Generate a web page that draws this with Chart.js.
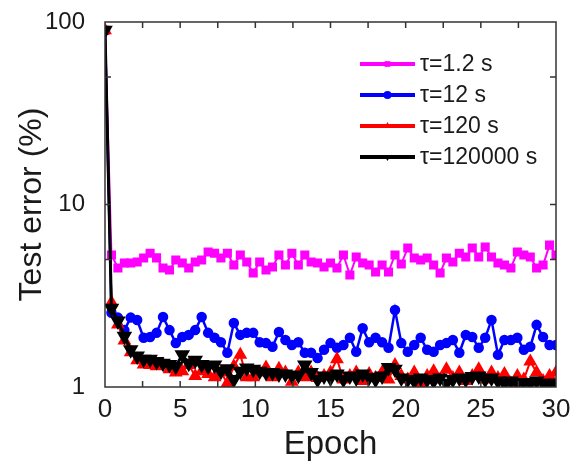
<!DOCTYPE html>
<html>
<head>
<meta charset="utf-8">
<script src="https://cdn.jsdelivr.net/npm/chart.js@4.4.1/dist/chart.umd.min.js"></script>
<style>
body { margin: 0; background: #fff; }
#wrap { width: 580px; height: 468px; }
</style>
</head>
<body>
<div id="wrap"><canvas id="grafico" width="580" height="468"></canvas></div>
<script>
// Datos
var epochs = [0, 0.43, 0.86, 1.29, 1.71, 2.14, 2.57, 3, 3.43, 3.86, 4.29, 4.71, 5.14, 5.57, 6, 6.43, 6.86, 7.29, 7.71, 8.14, 8.57, 9, 9.43, 9.86, 10.29, 10.71, 11.14, 11.57, 12, 12.43, 12.86, 13.29, 13.71, 14.14, 14.57, 15, 15.43, 15.86, 16.29, 16.71, 17.14, 17.57, 18, 18.43, 18.86, 19.29, 19.71, 20.14, 20.57, 21, 21.43, 21.86, 22.29, 22.71, 23.14, 23.57, 24, 24.43, 24.86, 25.29, 25.71, 26.14, 26.57, 27, 27.43, 27.86, 28.29, 28.71, 29.14, 29.57, 30];

var tau1_2 = [90, 5.29, 4.49, 4.78, 4.78, 4.84, 5.09, 5.4, 5.1, 4.49, 4.38, 4.97, 4.78, 4.49, 4.84, 4.97, 5.49, 5.4, 5.09, 5.4, 4.66, 5.29, 4.84, 4.21, 4.84, 4.38, 4.55, 5.29, 4.66, 5.4, 4.66, 5.29, 4.84, 4.78, 4.55, 4.78, 4.49, 5.29, 4.11, 5.16, 4.78, 4.66, 4.27, 4.66, 4.27, 5.29, 4.72, 5.78, 5.09, 4.97, 5.09, 4.66, 4.21, 5.09, 4.84, 5.4, 5.16, 5.78, 5.16, 5.85, 5.16, 4.78, 4.66, 4.49, 5.49, 5.29, 5.16, 4.49, 4.66, 5.99, 5.29];

var tau12 = [90, 2.55, 2.4, 2.05, 2.4, 2.33, 1.86, 1.88, 1.98, 2.42, 2.05, 1.74, 1.88, 1.93, 2.05, 2.42, 1.98, 1.86, 1.76, 1.54, 2.24, 1.93, 1.98, 1.98, 1.76, 1.74, 1.66, 2.0, 1.81, 1.7, 1.76, 1.54, 1.54, 1.44, 1.6, 1.74, 1.64, 1.7, 1.86, 1.56, 2.1, 1.76, 1.86, 1.76, 1.64, 2.64, 1.74, 1.56, 1.7, 1.86, 1.6, 1.56, 1.7, 1.74, 1.81, 1.54, 1.93, 1.88, 1.64, 1.86, 2.33, 1.5, 1.81, 1.81, 1.86, 1.6, 1.66, 2.19, 1.88, 1.7, 1.7];

var tau120 = [90, 2.9, 2.2, 1.8, 1.55, 1.4, 1.33, 1.32, 1.3, 1.33, 1.25, 1.2, 1.22, 1.32, 1.15, 1.22, 1.18, 1.13, 1.2, 1.05, 1.3, 1.5, 1.13, 1.13, 1.2, 1.28, 1.13, 1.26, 1.2, 1.07, 1.2, 1.13, 1.2, 1.12, 1.15, 1.2, 1.42, 1.1, 1.15, 1.2, 1.08, 1.18, 1.12, 1.2, 1.1, 1.32, 1.15, 1.1, 1.2, 1.05, 1.15, 1.22, 1.1, 1.25, 1.12, 1.2, 1.08, 1.15, 1.25, 1.1, 1.2, 1.12, 1.18, 1.05, 1.15, 1.1, 1.38, 1.2, 1.08, 1.15, 1.2];

var tau120000 = [90, 2.7, 2.3, 1.9, 1.6, 1.48, 1.42, 1.42, 1.38, 1.35, 1.33, 1.3, 1.5, 1.35, 1.4, 1.33, 1.3, 1.32, 1.22, 1.26, 1.1, 1.22, 1.27, 1.25, 1.22, 1.2, 1.2, 1.18, 1.18, 1.16, 1.16, 1.32, 1.2, 1.1, 1.15, 1.12, 1.18, 1.1, 1.15, 1.12, 1.18, 1.13, 1.1, 1.15, 1.28, 1.25, 1.12, 1.1, 1.08, 1.12, 1.1, 1.08, 1.12, 1.05, 1.1, 1.12, 1.1, 1.14, 1.15, 1.1, 1.12, 1.08, 1.05, 1.08, 1.05, 1.06, 1.05, 1.08, 1.05, 1.05, 1.05];

var nombresSeries = ['τ=1.2 s', 'τ=12 s', 'τ=120 s', 'τ=120000 s'];
var xTicks = [0, 5, 10, 15, 20, 25, 30];
var xMarcas = [2.5, 5, 7.5, 10, 12.5, 15, 17.5, 20, 22.5, 25, 27.5];
var yTicks = [1, 10, 100];
var yMarcas = [5, 10, 50];

function puntos(valores) {
    return valores.map(function(v, i) { return { x: epochs[i], y: v }; });
}

var fuente = "'Liberation Sans', Arial, sans-serif";

// Marco y marcas interiores de los ejes
var marcoEjes = {
    id: 'marcoEjes',
    afterDatasetsDraw: function(chart) {
        var ctx = chart.ctx, a = chart.chartArea;
        var sx = chart.scales.x, sy = chart.scales.y;
        ctx.save();
        ctx.strokeStyle = '#333';
        ctx.lineWidth = 1.5;
        ctx.strokeRect(a.left, a.top, a.right - a.left, a.bottom - a.top);
        ctx.beginPath();
        xMarcas.forEach(function(v) {
            var px = sx.getPixelForValue(v);
            ctx.moveTo(px, a.bottom); ctx.lineTo(px, a.bottom - 6);
            ctx.moveTo(px, a.top); ctx.lineTo(px, a.top + 6);
        });
        yMarcas.forEach(function(v) {
            var py = sy.getPixelForValue(v);
            ctx.moveTo(a.left, py); ctx.lineTo(a.left + 6, py);
            ctx.moveTo(a.right, py); ctx.lineTo(a.right - 6, py);
        });
        ctx.stroke();
        ctx.restore();
    }
};

// Leyenda dentro del area del grafico
var leyenda = {
    id: 'leyenda',
    afterDraw: function(chart) {
        var ctx = chart.ctx;
        var x0 = 360, x1 = 415, y = 64, paso = 31;
        ctx.save();
        chart.data.datasets.forEach(function(ds, i) {
            var yy = y + i * paso;
            ctx.strokeStyle = ds.borderColor;
            ctx.lineWidth = 4;
            ctx.beginPath();
            ctx.moveTo(x0, yy); ctx.lineTo(x1, yy);
            ctx.stroke();
            ctx.fillStyle = ds.borderColor;
            Chart.helpers.drawPoint(ctx, {
                pointStyle: ds.pointStyle,
                rotation: ds.pointRotation || 0,
                radius: 4,
                borderWidth: 0
            }, (x0 + x1) / 2, yy);
            ctx.font = "23px " + fuente;
            ctx.fillStyle = '#1a1a1a';
            ctx.textBaseline = 'middle';
            ctx.textAlign = 'left';
            ctx.fillText(ds.label, x1 + 5, yy + 1);
        });
        ctx.restore();
    }
};

var ctx = document.getElementById('grafico').getContext('2d');
var myChart = new Chart(ctx, {
    type: 'line',
    data: {
        datasets: [{
            label: nombresSeries[0],
            data: puntos(tau1_2),
            borderColor: '#ff00ff',
            backgroundColor: '#ff00ff',
            borderWidth: 2,
            pointStyle: 'rect',
            pointRadius: 5,
            order: 4
        }, {
            label: nombresSeries[1],
            data: puntos(tau12),
            borderColor: '#0000ff',
            backgroundColor: '#0000ff',
            borderWidth: 2.5,
            pointStyle: 'circle',
            pointRadius: 4,
            order: 3
        }, {
            label: nombresSeries[2],
            data: puntos(tau120),
            borderColor: '#ff0000',
            backgroundColor: '#ff0000',
            borderWidth: 2,
            pointStyle: 'triangle',
            pointRadius: 6,
            order: 2
        }, {
            label: nombresSeries[3],
            data: puntos(tau120000),
            borderColor: '#000000',
            backgroundColor: '#000000',
            borderWidth: 3,
            pointStyle: 'triangle',
            pointRotation: 180,
            pointRadius: 6,
            order: 1
        }]
    },
    options: {
        responsive: false,
        animation: false,
        devicePixelRatio: 1,
        layout: { padding: { top: 22, right: 24, left: 10, bottom: 3 } },
        elements: {
            line: { tension: 0 },
            point: { borderWidth: 0, hoverRadius: 5 }
        },
        plugins: {
            legend: { display: false },
            tooltip: { enabled: false }
        },
        scales: {
            x: {
                type: 'linear',
                min: 0,
                max: 30,
                afterBuildTicks: function(scale) {
                    scale.ticks = xTicks.map(function(v) { return { value: v }; });
                },
                afterFit: function(scale) {
                    scale.height = 78;
                    scale.paddingLeft = 0;
                    scale.paddingRight = 0;
                },
                grid: { display: false, drawTicks: false },
                border: { display: false },
                ticks: {
                    color: '#1a1a1a',
                    padding: 7,
                    maxRotation: 0,
                    font: { family: fuente, size: 26 }
                },
                title: {
                    display: true,
                    text: 'Epoch',
                    color: '#1a1a1a',
                    padding: { top: 0, bottom: 0 },
                    font: { family: fuente, size: 33 }
                }
            },
            y: {
                type: 'logarithmic',
                min: 1,
                max: 100,
                afterBuildTicks: function(scale) {
                    scale.ticks = yTicks.map(function(v) { return { value: v }; });
                },
                afterFit: function(scale) {
                    scale.width = 95;
                    scale.paddingTop = 0;
                    scale.paddingBottom = 0;
                },
                grid: { display: false, drawTicks: false },
                border: { display: false },
                ticks: {
                    color: '#1a1a1a',
                    padding: 20,
                    font: { family: fuente, size: 24 },
                    callback: function(v) { return String(v); }
                },
                title: {
                    display: true,
                    text: 'Test error (%)',
                    color: '#1a1a1a',
                    padding: { top: 3, bottom: 0 },
                    font: { family: fuente, size: 32 }
                }
            }
        }
    },
    plugins: [marcoEjes, leyenda]
});
</script>
</body>
</html>
